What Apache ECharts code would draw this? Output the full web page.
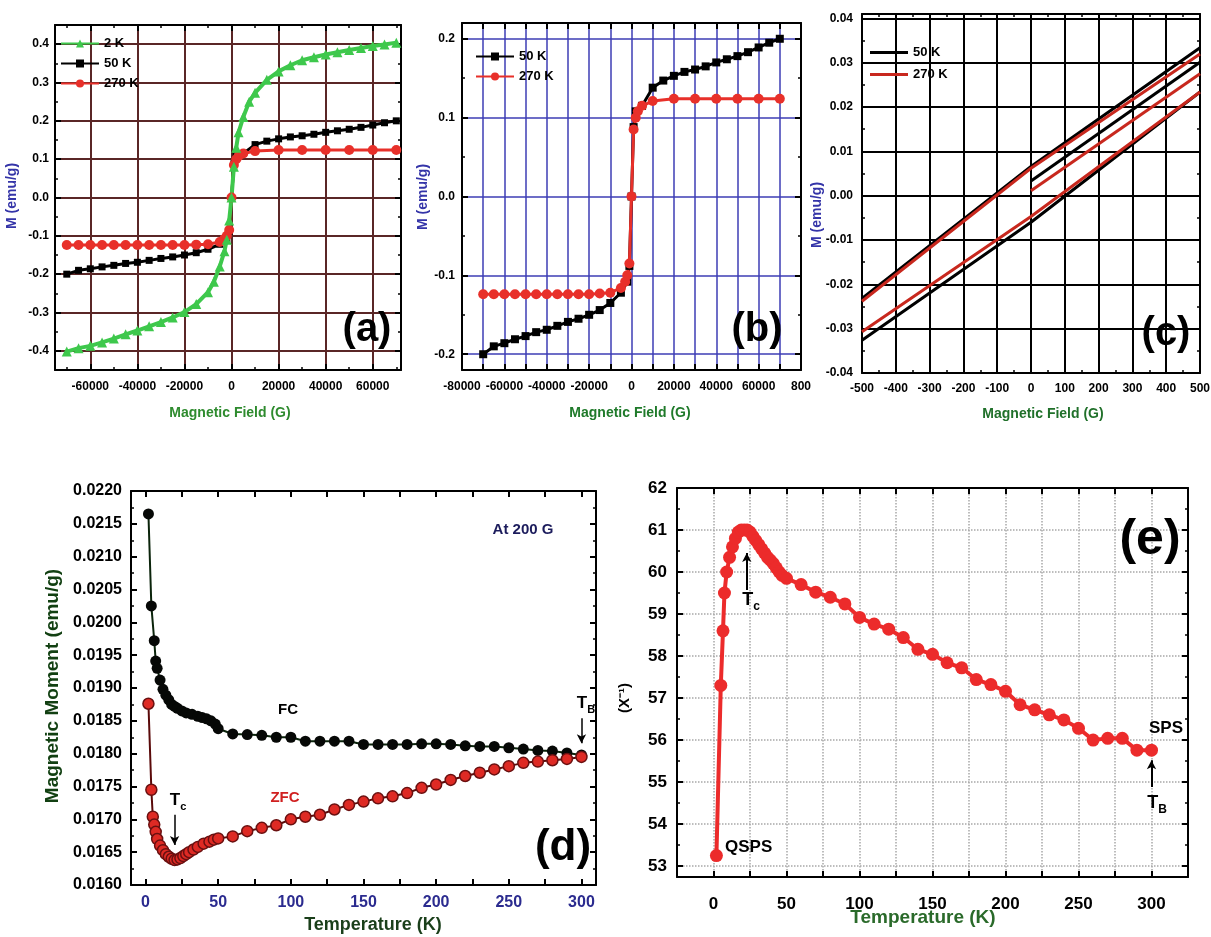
<!DOCTYPE html>
<html>
<head>
<meta charset="utf-8">
<title>Magnetic measurements</title>
<script src="https://cdn.jsdelivr.net/npm/echarts@6.0.0/dist/echarts.min.js"></script>
<style>
  html, body { margin: 0; padding: 0; background: #fff; }
  #chart { width: 1211px; height: 937px; }
</style>
</head>
<body>
<div id="chart"></div>
<script>
// ---- (a) and (b): M-H loops, field in G, M in emu/g ----
const field2K = [-70000, -65000, -60000, -55000, -50000, -45000, -40000, -35000, -30000, -25000, -20000, -15000, -10000, -7500, -5000, -3000, -2000, -1000, 0, 1000, 2000, 3000, 5000, 7500, 10000, 15000, 20000, 25000, 30000, 35000, 40000, 45000, 50000, 55000, 60000, 65000, 70000];
const m2K = [-0.402, -0.393, -0.387, -0.378, -0.368, -0.357, -0.347, -0.336, -0.325, -0.313, -0.299, -0.278, -0.247, -0.22, -0.18, -0.14, -0.11, -0.06, 0.0, 0.08, 0.13, 0.17, 0.21, 0.25, 0.273, 0.307, 0.329, 0.345, 0.358, 0.366, 0.373, 0.379, 0.385, 0.39, 0.395, 0.399, 0.404];

const field50K = [-70000, -65000, -60000, -55000, -50000, -45000, -40000, -35000, -30000, -25000, -20000, -15000, -10000, -5000, -2000, -1000, 0, 1000, 2000, 5000, 10000, 15000, 20000, 25000, 30000, 35000, 40000, 45000, 50000, 55000, 60000, 65000, 70000];
const m50K = [-0.200, -0.190, -0.186, -0.181, -0.177, -0.172, -0.169, -0.164, -0.159, -0.155, -0.150, -0.144, -0.135, -0.122, -0.108, -0.088, 0.0, 0.088, 0.108, 0.115, 0.138, 0.147, 0.153, 0.158, 0.161, 0.165, 0.170, 0.174, 0.178, 0.183, 0.189, 0.195, 0.200];

const field270K = [-70000, -65000, -60000, -55000, -50000, -45000, -40000, -35000, -30000, -25000, -20000, -15000, -10000, -5000, -3000, -2000, -1000, 0, 1000, 2000, 3000, 5000, 10000, 20000, 30000, 40000, 50000, 60000, 70000];
const m270K = [-0.124, -0.124, -0.124, -0.124, -0.124, -0.124, -0.124, -0.124, -0.124, -0.124, -0.124, -0.123, -0.122, -0.116, -0.108, -0.100, -0.085, 0.0, 0.085, 0.100, 0.108, 0.115, 0.121, 0.124, 0.124, 0.124, 0.124, 0.124, 0.124];

// ---- (c): low-field loops ----
const lowUpH = [500, 0, -500];
const lowDownH = [-500, 0, 500];
const lowVirginH = [0, 500];
const low50Upper = [0.0334, 0.0066, -0.0232];
const low50Lower = [-0.0326, -0.0060, 0.0234];
const low50Virgin = [0.0033, 0.0301];
const low270Upper = [0.0320, 0.0062, -0.0238];
const low270Lower = [-0.0307, -0.0047, 0.0234];
const low270Virgin = [0.0011, 0.0275];

// ---- (d): FC / ZFC at 200 G ----
const tempFC = [2, 4, 6, 7, 8, 10, 12, 14, 16, 18, 20, 22, 25, 28, 32, 36, 39, 42, 45, 48, 50, 60, 70, 80, 90, 100, 110, 120, 130, 140, 150, 160, 170, 180, 190, 200, 210, 220, 230, 240, 250, 260, 270, 280, 290, 300];
const momentFC = [0.02165, 0.02025, 0.01972, 0.01941, 0.01930, 0.01912, 0.01898, 0.01889, 0.01882, 0.01875, 0.01872, 0.01869, 0.01865, 0.01862, 0.01860, 0.01857, 0.01855, 0.01853, 0.01850, 0.01845, 0.01838, 0.01830, 0.01829, 0.01828, 0.01825, 0.01825, 0.01819, 0.01819, 0.01819, 0.01819, 0.01814, 0.01814, 0.01814, 0.01814, 0.01815, 0.01815, 0.01814, 0.01812, 0.01811, 0.01811, 0.01809, 0.01807, 0.01805, 0.01804, 0.01801, 0.01798];
const tempZFC = [2, 4, 5, 6, 7, 8, 10, 12, 14, 16, 18, 20, 22, 24, 26, 28, 30, 33, 36, 40, 44, 47, 50, 60, 70, 80, 90, 100, 110, 120, 130, 140, 150, 160, 170, 180, 190, 200, 210, 220, 230, 240, 250, 260, 270, 280, 290, 300];
const momentZFC = [0.01876, 0.01745, 0.01704, 0.01692, 0.01681, 0.01670, 0.01660, 0.01653, 0.01647, 0.01643, 0.01640, 0.01638, 0.01639, 0.01641, 0.01644, 0.01647, 0.01650, 0.01654, 0.01658, 0.01663, 0.01666, 0.01669, 0.01671, 0.01674, 0.01682, 0.01687, 0.01691, 0.01700, 0.01704, 0.01707, 0.01715, 0.01722, 0.01727, 0.01732, 0.01735, 0.01740, 0.01748, 0.01753, 0.01760, 0.01766, 0.01771, 0.01776, 0.01781, 0.01786, 0.01788, 0.01790, 0.01792, 0.01795];

// ---- (e): inverse susceptibility ----
const tempInv = [2, 5, 6.5, 7.5, 9, 11, 13, 15, 17, 19, 21, 23, 25, 27, 29, 31, 33, 35, 37, 39, 41, 43, 45, 47, 50, 60, 70, 80, 90, 100, 110, 120, 130, 140, 150, 160, 170, 180, 190, 200, 210, 220, 230, 240, 250, 260, 270, 280, 290, 300];
const invChi = [53.25, 57.3, 58.6, 59.5, 60.0, 60.35, 60.6, 60.8, 60.95, 61.0, 61.0, 61.0, 60.95, 60.85, 60.75, 60.65, 60.55, 60.45, 60.35, 60.28, 60.2, 60.1, 60.0, 59.92, 59.85, 59.7, 59.52, 59.4, 59.24, 58.92, 58.76, 58.64, 58.44, 58.16, 58.04, 57.84, 57.72, 57.44, 57.32, 57.16, 56.84, 56.72, 56.6, 56.48, 56.28, 56.0, 56.04, 56.04, 55.76, 55.76];

const NARROW = "'Liberation Sans Narrow', 'Liberation Sans', Arial, sans-serif";
const WIDE = "'Liberation Sans', Arial, sans-serif";

const zip = (xs, ys) => xs.map((x, i) => [x, ys[i]]);
const onStep = (v, step) => Math.abs(v / step - Math.round(v / step)) < 1e-6;
const stepFmt = (step, digits) => (v) =>
  onStep(v, step) ? (digits == null ? String(Math.round(v)) : v.toFixed(digits)) : "";

// one panel = bottom/left axes with labels + top/right mirrors with ticks only
function frameAxes(dim, gi, s) {
  const base = {
    type: "value",
    gridIndex: gi,
    min: s.min,
    max: s.max,
    axisLine: { show: true, onZero: false, lineStyle: { color: "#000", width: 2 } },
    axisTick: { show: true, inside: true, length: 6, lineStyle: { color: "#000", width: 2 } },
    minorTick: { show: !!s.minor, splitNumber: s.minor || 5, length: 3, lineStyle: { color: "#000", width: 1.5 } },
  };
  if (s.interval != null) base.interval = s.interval;
  if (s.nice != null) { base.minInterval = s.nice; base.maxInterval = s.nice; }
  const main = Object.assign({}, base, {
    position: dim === "x" ? "bottom" : "left",
    axisLabel: Object.assign({ show: true, margin: s.margin, formatter: s.fmt, color: "#000", fontWeight: "bold" }, s.label),
    splitLine: s.split ? { show: true, lineStyle: s.split } : { show: false },
  });
  const mirror = Object.assign({}, base, {
    position: dim === "x" ? "top" : "right",
    axisLabel: { show: false },
    splitLine: { show: false },
  });
  return [main, mirror];
}

const smallLabel = { fontFamily: NARROW, fontSize: 12 };
const maroon = { color: "#5a2626", width: 2 };
const blue = { color: "#3c3cb4", width: 1.5 };
const blackGrid = { color: "#000", width: 2 };
const dotted = { color: "#a8a8a8", width: 1.5, type: "dotted" };

const xAxes = [
  ...frameAxes("x", 0, { min: -75000, max: 72000, nice: 20000, minor: 2, fmt: stepFmt(20000), split: maroon, margin: 11, label: smallLabel }),
  ...frameAxes("x", 1, { min: -80000, max: 80000, interval: 10000, fmt: (v) => (v === 80000 ? "800" : stepFmt(20000)(v)), split: blue, margin: 11, label: smallLabel }),
  ...frameAxes("x", 2, { min: -500, max: 500, interval: 100, minor: 2, fmt: stepFmt(100), split: blackGrid, margin: 10, label: smallLabel }),
  ...frameAxes("x", 3, { min: -10, max: 310, nice: 25, fmt: stepFmt(50), margin: 10, label: { fontFamily: WIDE, fontSize: 16, color: "#2b2b8f" } }),
  ...frameAxes("x", 4, { min: -25, max: 325, interval: 25, fmt: stepFmt(50), split: dotted, margin: 19, label: { fontFamily: WIDE, fontSize: 17 } }),
];
const yAxes = [
  ...frameAxes("y", 0, { min: -0.45, max: 0.45, nice: 0.1, minor: 2, fmt: stepFmt(0.1, 1), split: maroon, margin: 6, label: smallLabel }),
  ...frameAxes("y", 1, { min: -0.22, max: 0.22, nice: 0.1, minor: 2, fmt: stepFmt(0.1, 1), split: blue, margin: 7, label: smallLabel }),
  ...frameAxes("y", 2, { min: -0.04, max: 0.041, nice: 0.01, minor: 2, fmt: stepFmt(0.01, 2), split: blackGrid, margin: 9, label: smallLabel }),
  ...frameAxes("y", 3, { min: 0.016, max: 0.022, interval: 0.0005, minor: 2, fmt: stepFmt(0.0005, 4), margin: 9, label: { fontFamily: WIDE, fontSize: 16 } }),
  ...frameAxes("y", 4, { min: 52.74, max: 62, nice: 1, minor: 2, fmt: stepFmt(1), split: dotted, margin: 10, label: { fontFamily: WIDE, fontSize: 17 } }),
];

const legendNames = {
  a2: "2 K", a50: "50 K", a270: "270 K",
  b50: "50 K", b270: "270 K",
  c50: "50 K", c270: "270 K",
};
const legendBase = {
  orient: "vertical",
  itemWidth: 38,
  itemHeight: 10,
  itemGap: 7,
  padding: 0,
  selectedMode: false,
  formatter: (n) => legendNames[n],
  textStyle: { fontFamily: NARROW, fontSize: 13, fontWeight: "bold", color: "#000" },
};

const GREEN = "#3ec84c";
const RED = "#e8302a";
const RED_C = "#c8281e";

function loopSeries(name, gi, data, color, symbol, size, width) {
  return {
    name, type: "line", xAxisIndex: gi * 2, yAxisIndex: gi * 2,
    data, symbol, symbolSize: size, showSymbol: true,
    itemStyle: { color }, lineStyle: { color, width },
  };
}
function plainLine(name, gi, data, color) {
  return {
    name, type: "line", xAxisIndex: gi * 2, yAxisIndex: gi * 2,
    data, symbol: "none", itemStyle: { color }, lineStyle: { color, width: 3 },
  };
}
function arrow(from, to) {
  return {
    silent: true, symbol: ["none", "arrow"], symbolSize: [7, 9],
    label: { show: false }, lineStyle: { color: "#000", width: 1.5, type: "solid" },
    data: [[{ coord: from }, { coord: to }]],
  };
}

const series = [
  loopSeries("a50", 0, zip(field50K, m50K), "#000", "rect", 7, 3),
  loopSeries("a270", 0, zip(field270K, m270K), RED, "circle", 10, 3),
  loopSeries("a2", 0, zip(field2K, m2K), GREEN, "triangle", 10, 4),
  loopSeries("b50", 1, zip(field50K, m50K), "#000", "rect", 8, 3),
  loopSeries("b270", 1, zip(field270K, m270K), RED, "circle", 10, 3),
  plainLine("c50", 2, zip(lowUpH, low50Upper), "#000"),
  plainLine("c50", 2, zip(lowDownH, low50Lower), "#000"),
  plainLine("c50", 2, zip(lowVirginH, low50Virgin), "#000"),
  plainLine("c270", 2, zip(lowUpH, low270Upper), RED_C),
  plainLine("c270", 2, zip(lowDownH, low270Lower), RED_C),
  plainLine("c270", 2, zip(lowVirginH, low270Virgin), RED_C),
  {
    name: "FC", type: "line", xAxisIndex: 6, yAxisIndex: 6,
    data: zip(tempFC, momentFC), symbol: "circle", symbolSize: 11,
    itemStyle: { color: "#060806" }, lineStyle: { color: "#0b240b", width: 2 },
    markLine: arrow([300, 0.01854], [300, 0.01816]),
  },
  {
    name: "ZFC", type: "line", xAxisIndex: 6, yAxisIndex: 6,
    data: zip(tempZFC, momentZFC), symbol: "circle", symbolSize: 11,
    itemStyle: { color: "#de2a24", borderColor: "#6a1010", borderWidth: 1.5 },
    lineStyle: { color: "#5a0a0a", width: 2 },
    markLine: arrow([20, 0.01707], [20, 0.01661]),
  },
  {
    name: "inv", type: "line", xAxisIndex: 8, yAxisIndex: 8,
    data: zip(tempInv, invChi), symbol: "circle", symbolSize: 13,
    itemStyle: { color: "#ec2b2b" }, lineStyle: { color: "#ec2b2b", width: 4 },
    markLine: {
      silent: true, symbol: ["none", "arrow"], symbolSize: [7, 9],
      label: { show: false }, lineStyle: { color: "#000", width: 2, type: "solid" },
      data: [
        [{ coord: [22.8, 59.57] }, { coord: [22.8, 60.45] }],
        [{ coord: [300, 54.88] }, { coord: [300, 55.52] }],
      ],
    },
  },
];

function label(text, x, y, font, extra) {
  return {
    type: "text", x, y, z: 100, silent: true,
    rotation: (extra && extra.rotation) || 0,
    style: Object.assign({
      text, align: "center", verticalAlign: "middle",
      fontFamily: font.family, fontSize: font.size, fontWeight: font.weight || "bold",
      fill: font.color || "#000",
    }, extra && extra.style),
  };
}
const sub = (main, s, size) => ({
  text: "{t|" + main + "}{s|" + s + "}",
  rich: {
    t: { fontFamily: WIDE, fontSize: size, fontWeight: "bold", fill: "#000" },
    s: { fontFamily: WIDE, fontSize: Math.round(size * 0.65), fontWeight: "bold", fill: "#000", verticalAlign: "bottom", padding: [0, 0, -4, 0] },
  },
});

const V = Math.PI / 2;
const graphic = [
  label("M (emu/g)", 12, 196, { family: NARROW, size: 14, color: "#3434a8" }, { rotation: V }),
  label("Magnetic Field (G)", 230, 413, { family: NARROW, size: 14, color: "#2e8b2e" }),
  label("M (emu/g)", 423, 197, { family: NARROW, size: 14, color: "#3434a8" }, { rotation: V }),
  label("Magnetic Field (G)", 630, 413, { family: NARROW, size: 14, color: "#1f7a2a" }),
  label("M (emu/g)", 817, 215, { family: NARROW, size: 14, color: "#3434a8" }, { rotation: V }),
  label("Magnetic Field (G)", 1043, 414, { family: NARROW, size: 14, color: "#20702a" }),
  label("(a)", 367, 330, { family: NARROW, size: 40 }),
  label("(b)", 757, 330, { family: NARROW, size: 40 }),
  label("(c)", 1166, 334, { family: NARROW, size: 40 }),
  label("Magnetic Moment (emu/g)", 53, 686, { family: WIDE, size: 19, color: "#124012" }, { rotation: V }),
  label("Temperature (K)", 373, 925, { family: WIDE, size: 18, color: "#1a3f1a" }),
  label("At 200 G", 523, 530, { family: WIDE, size: 15, color: "#1c1c5c" }),
  label("FC", 288, 710, { family: WIDE, size: 15 }),
  label("ZFC", 285, 798, { family: WIDE, size: 15, color: "#d02020" }),
  label("", 178, 800, { family: WIDE, size: 16 }, { style: sub("T", "c", 17) }),
  label("", 586, 703, { family: WIDE, size: 16 }, { style: sub("T", "B", 17) }),
  label("(d)", 563, 848, { family: NARROW, size: 44 }),
  label("(X⁻¹)", 625, 698, { family: WIDE, size: 15 }, { rotation: V }),
  label("Temperature (K)", 923, 918, { family: WIDE, size: 19, color: "#2a6a2a" }),
  label("", 751, 600, { family: WIDE, size: 17 }, { style: sub("T", "c", 18) }),
  label("QSPS", 725, 847, { family: WIDE, size: 17 }, { style: { align: "left" } }),
  label("SPS", 1166, 728, { family: WIDE, size: 17 }),
  label("", 1157, 803, { family: WIDE, size: 17 }, { style: sub("T", "B", 18) }),
  label("(e)", 1150, 540, { family: NARROW, size: 50 }),
];

const chart = echarts.init(document.getElementById("chart"), null, { renderer: "canvas" });
chart.setOption({
  backgroundColor: "#fff",
  animation: false,
  grid: [
    { left: 55, top: 25, width: 346, height: 345, outerBoundsMode: "none" },
    { left: 462, top: 23, width: 339, height: 347, outerBoundsMode: "none" },
    { left: 862, top: 14, width: 338, height: 359, outerBoundsMode: "none" },
    { left: 131, top: 491, width: 465, height: 394, outerBoundsMode: "none" },
    { left: 677, top: 488, width: 511, height: 389, outerBoundsMode: "none" },
  ],
  xAxis: xAxes,
  yAxis: yAxes,
  legend: [
    Object.assign({}, legendBase, { left: 60, top: 37, data: ["a2", "a50", "a270"] }),
    Object.assign({}, legendBase, { left: 475, top: 50, data: ["b50", "b270"] }),
    Object.assign({}, legendBase, {
      left: 870, top: 46, itemGap: 9, itemHeight: 3,
      data: [{ name: "c50", icon: "rect" }, { name: "c270", icon: "rect" }],
    }),
  ],
  series,
  graphic,
});
</script>
</body>
</html>
